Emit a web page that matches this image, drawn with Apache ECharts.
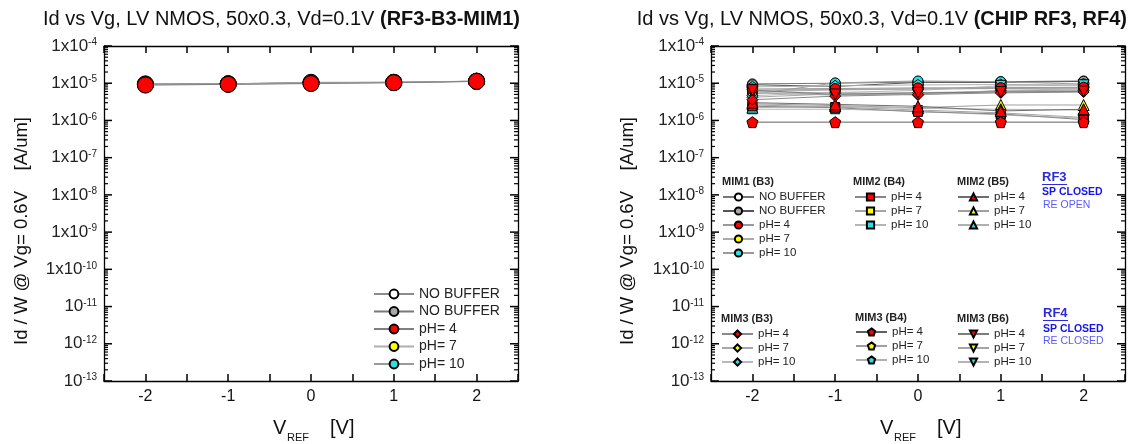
<!DOCTYPE html>
<html>
<head>
<meta charset="utf-8">
<script src="https://cdn.jsdelivr.net/npm/echarts@6/dist/echarts.min.js"></script>
<style>
  html, body { margin: 0; padding: 0; background: #fff; }
  #chart { width: 1129px; height: 444px; }
</style>
</head>
<body>
<div id="chart"></div>
<script>
// ---- data ----------------------------------------------------------------
const vref = [-2, -1, 0, 1, 2];
const decadeExponents = [-13, -12, -11, -10, -9, -8, -7, -6, -5, -4];

// Left panel: RF3-B3-MIM1
const b3NoBufferOpen = [9.6e-6, 9.7e-6, 1.03e-5, 1.06e-5, 1.14e-5];
const b3NoBufferGray = [9.4e-6, 9.6e-6, 1.02e-5, 1.05e-5, 1.13e-5];
const b3Ph4 = [8.9e-6, 9.3e-6, 9.8e-6, 1.03e-5, 1.12e-5];
const b3Ph7 = [9.1e-6, 9.4e-6, 1.0e-5, 1.04e-5, 1.12e-5];
const b3Ph10 = [9.2e-6, 9.6e-6, 1.06e-5, 1.06e-5, 1.13e-5];
const leftLabels = ['NO BUFFER', 'NO BUFFER', 'pH= 4', 'pH= 7', 'pH= 10'];

// Right panel: chips RF3 and RF4
const rf3Mim1B3NoBufferOpen = [9.6e-6, 1.0e-5, 1.08e-5, 1.1e-5, 1.15e-5];
const rf3Mim1B3NoBufferGray = [9.1e-6, 8.2e-6, 1.05e-5, 1.05e-5, 1.12e-5];
const rf3Mim1B3Ph4 = [7.0e-6, 7.2e-6, 7.5e-6, 7.6e-6, 7.8e-6];
const rf3Mim1B3Ph7 = [6.0e-6, 6.6e-6, 7.0e-6, 7.3e-6, 7.5e-6];
const rf3Mim1B3Ph10 = [5.0e-6, 1.02e-5, 1.15e-5, 1.1e-5, 9.5e-6];
const rf3Mim2B4Ph4 = [2.4e-6, 2.2e-6, 1.7e-6, 1.5e-6, 1.05e-6];
const rf3Mim2B4Ph7 = [2.6e-6, 2.3e-6, 1.9e-6, 1.6e-6, 1.2e-6];
const rf3Mim2B4Ph10 = [2.0e-6, 2.0e-6, 1.8e-6, 1.4e-6, 1.15e-6];
const rf3Mim2B5Ph4 = [3.0e-6, 2.7e-6, 2.4e-6, 1.8e-6, 2.0e-6];
const rf3Mim2B5Ph7 = [2.8e-6, 2.5e-6, 2.2e-6, 2.6e-6, 2.6e-6];
const rf3Mim2B5Ph10 = [2.2e-6, 2.4e-6, 2.1e-6, 2.0e-6, 1.9e-6];
const rf4Mim3B3Ph4 = [3.6e-6, 4.5e-6, 5.0e-6, 5.5e-6, 5.8e-6];
const rf4Mim3B3Ph7 = [4.2e-6, 5.2e-6, 5.6e-6, 6.0e-6, 6.3e-6];
const rf4Mim3B3Ph10 = [4.6e-6, 5.8e-6, 4.8e-6, 6.5e-6, 7.0e-6];
const rf4Mim3B4Ph4 = [9.0e-7, 9.0e-7, 9.0e-7, 9.0e-7, 9.0e-7];
const rf4Mim3B4Ph7 = [6.5e-6, 6.8e-6, 7.0e-6, 7.2e-6, 7.4e-6];
const rf4Mim3B4Ph10 = [8.0e-6, 8.5e-6, 9.0e-6, 9.2e-6, 9.5e-6];
const rf4Mim3B6Ph4 = [6.5e-6, 5.0e-6, 5.5e-6, 5.8e-6, 6.0e-6];
const rf4Mim3B6Ph7 = [5.5e-6, 4.8e-6, 5.2e-6, 6.2e-6, 6.6e-6];
const rf4Mim3B6Ph10 = [5.8e-6, 5.6e-6, 6.4e-6, 8.5e-6, 8.8e-6];

// ---- styling helpers -----------------------------------------------------
const FONT = 'Liberation Sans, Arial, sans-serif';
const RED = '#ff0000', YEL = '#ffff00', CYA = '#30dede', GRY = '#a8a8a8', WHT = '#ffffff';
const TRI_DOWN = 'path://M0,0L10,0L5,9Z';
const PENTAGON = 'path://M5,0L10,3.6L8.1,9.5L1.9,9.5L0,3.6Z';

const legendText = {};
function lineSeries(id, label, values, symbol, fill, size, lineColor, xi, yi, z) {
  legendText[id] = label;
  return {
    type: 'line', name: id,
    data: vref.map((x, i) => [x, values[i]]),
    xAxisIndex: xi, yAxisIndex: yi,
    symbol: symbol, symbolSize: size, showSymbol: true,
    z: z, animation: false, silent: true,
    lineStyle: { color: lineColor, width: 1 },
    itemStyle: { color: fill, borderColor: '#000', borderWidth: 1 },
    emphasis: { disabled: true }
  };
}

// left panel series
const leftSeries = [
  lineSeries('L_nb1', leftLabels[0], b3NoBufferOpen, 'circle', WHT, 16, '#8c8c8c', 0, 0, 2),
  lineSeries('L_nb2', leftLabels[1], b3NoBufferGray, 'circle', GRY, 16, '#7a7a7a', 0, 0, 2),
  lineSeries('L_p10', leftLabels[4], b3Ph10, 'circle', CYA, 16, '#9a9a9a', 0, 0, 2),
  lineSeries('L_p7', leftLabels[3], b3Ph7, 'circle', YEL, 16, '#b0b0b0', 0, 0, 2),
  lineSeries('L_p4', leftLabels[2], b3Ph4, 'circle', RED, 16, '#808080', 0, 0, 3)
];
const leftLegendOrder = ['L_nb1', 'L_nb2', 'L_p4', 'L_p7', 'L_p10'];

// right panel series
const RX = 2, RY = 2;
const rightGroups = [
  { head: 'MIM1 (B3)', ids: ['R1_nb1', 'R1_nb2', 'R1_p4', 'R1_p7', 'R1_p10'], items: [
    ['NO BUFFER', rf3Mim1B3NoBufferOpen, 'circle', WHT, 10, '#777777'],
    ['NO BUFFER', rf3Mim1B3NoBufferGray, 'circle', GRY, 10, '#555555'],
    ['pH= 4', rf3Mim1B3Ph4, 'circle', RED, 10, '#999999'],
    ['pH= 7', rf3Mim1B3Ph7, 'circle', YEL, 10, '#aaaaaa'],
    ['pH= 10', rf3Mim1B3Ph10, 'circle', CYA, 10, '#9a9a9a']] },
  { head: 'MIM2 (B4)', ids: ['R2_p4', 'R2_p7', 'R2_p10'], items: [
    ['pH= 4', rf3Mim2B4Ph4, 'rect', RED, 9, '#888888'],
    ['pH= 7', rf3Mim2B4Ph7, 'rect', YEL, 9, '#a5a5a5'],
    ['pH= 10', rf3Mim2B4Ph10, 'rect', CYA, 9, '#b5b5b5']] },
  { head: 'MIM2 (B5)', ids: ['R3_p4', 'R3_p7', 'R3_p10'], items: [
    ['pH= 4', rf3Mim2B5Ph4, 'triangle', RED, 11, '#6e6e6e'],
    ['pH= 7', rf3Mim2B5Ph7, 'triangle', YEL, 11, '#a0a0a0'],
    ['pH= 10', rf3Mim2B5Ph10, 'triangle', CYA, 11, '#b0b0b0']] },
  { head: 'MIM3 (B3)', ids: ['R4_p4', 'R4_p7', 'R4_p10'], items: [
    ['pH= 4', rf4Mim3B3Ph4, 'diamond', RED, 11, '#8a8a8a'],
    ['pH= 7', rf4Mim3B3Ph7, 'diamond', YEL, 11, '#a8a8a8'],
    ['pH= 10', rf4Mim3B3Ph10, 'diamond', CYA, 11, '#b8b8b8']] },
  { head: 'MIM3 (B4)', ids: ['R5_p4', 'R5_p7', 'R5_p10'], items: [
    ['pH= 4', rf4Mim3B4Ph4, PENTAGON, RED, 11, '#606060'],
    ['pH= 7', rf4Mim3B4Ph7, PENTAGON, YEL, 11, '#a0a0a0'],
    ['pH= 10', rf4Mim3B4Ph10, PENTAGON, CYA, 11, '#b0b0b0']] },
  { head: 'MIM3 (B6)', ids: ['R6_p4', 'R6_p7', 'R6_p10'], items: [
    ['pH= 4', rf4Mim3B6Ph4, TRI_DOWN, RED, 11, '#7c7c7c'],
    ['pH= 7', rf4Mim3B6Ph7, TRI_DOWN, YEL, 11, '#a4a4a4'],
    ['pH= 10', rf4Mim3B6Ph10, TRI_DOWN, CYA, 11, '#b4b4b4']] }
];
const rightNonRed = [], rightRed = [];
rightGroups.forEach(g => g.items.forEach((it, k) => {
  const s = lineSeries(g.ids[k], it[0], it[1], it[2], it[3], it[4], it[5], RX, RY, it[3] === RED ? 3 : 2);
  (it[3] === RED ? rightRed : rightNonRed).push(s);
}));

// ---- axes ------------------------------------------------------------------
const decades = decadeExponents.map(e => Math.pow(10, e));
const minorValues = [];
decadeExponents.slice(0, -1).forEach(e => { for (let k = 2; k <= 9; k++) minorValues.push(k * Math.pow(10, e)); });

function decadeLabel(v) {
  const e = Math.round(Math.log10(v));
  return (e >= -10 ? '1x10' : '10') + '{s|' + e + '}';
}

function xAxes(grid) {
  const common = {
    type: 'value', gridIndex: grid, min: -2.5, max: 2.5, interval: 0.5,
    splitLine: { show: false },
    axisLine: { onZero: false, lineStyle: { color: '#000', width: 1.3 } },
    axisTick: { inside: true, length: 7, lineStyle: { color: '#000', width: 1.5 } }
  };
  return [
    Object.assign({}, common, { position: 'bottom',
      axisLabel: { margin: 8, fontFamily: FONT, fontSize: 16, color: '#111',
        formatter: v => (Number.isInteger(v) ? String(v) : '') } }),
    Object.assign({}, common, { position: 'top', axisLabel: { show: false } })
  ];
}

function yAxes(grid) {
  const common = { type: 'log', logBase: 10, gridIndex: grid, min: 1e-13, max: 1e-4,
    splitLine: { show: false }, axisTick: { show: false } };
  return [
    Object.assign({}, common, { position: 'left',
      axisLine: { onZero: false, lineStyle: { color: '#000', width: 1.3 } },
      axisLabel: { margin: 7, customValues: decades, fontFamily: FONT, fontSize: 17, color: '#222',
        formatter: decadeLabel,
        rich: { s: { fontSize: 10, verticalAlign: 'top', lineHeight: 10, fontFamily: FONT, color: '#222', padding: [0, 0, 8, 0] } } } }),
    Object.assign({}, common, { position: 'right',
      axisLine: { onZero: false, lineStyle: { color: '#000', width: 1.3 } },
      axisLabel: { show: false } })
  ];
}

// inward log ticks on both vertical edges of a panel, placed through the axis scales
function tickSeries(xi, yi, values, len, width) {
  return {
    type: 'custom', xAxisIndex: xi, yAxisIndex: yi, silent: true, z: 4, animation: false,
    clip: false,
    data: values.map(v => [-2.5, v]),
    renderItem: function (params, api) {
      const v = api.value(1);
      const l = api.coord([-2.5, v]);
      const r = api.coord([2.5, v]);
      const st = { stroke: '#000', lineWidth: width };
      return { type: 'group', children: [
        { type: 'line', shape: { x1: l[0], y1: l[1], x2: l[0] + len, y2: l[1] }, style: st },
        { type: 'line', shape: { x1: r[0], y1: r[1], x2: r[0] - len, y2: r[1] }, style: st }
      ] };
    }
  };
}

// ---- legends ---------------------------------------------------------------
function legend(ids, left, top, opts) {
  return Object.assign({
    orient: 'vertical', left: left, top: top, padding: 0, selectedMode: false,
    data: ids, formatter: n => legendText[n]
  }, opts);
}
const smallLegend = { itemWidth: 31, itemHeight: 9, itemGap: 1,
  textStyle: { fontFamily: FONT, fontSize: 11.5, lineHeight: 13, color: '#222' } };
const legends = [
  legend(leftLegendOrder, 373, 287, { itemWidth: 40, itemHeight: 11, itemGap: 3.5,
    textStyle: { fontFamily: FONT, fontSize: 14, lineHeight: 14, color: '#222' } }),
  legend(rightGroups[0].ids, 722, 190.5, smallLegend),
  legend(rightGroups[1].ids, 854, 190.5, smallLegend),
  legend(rightGroups[2].ids, 957, 190.5, smallLegend),
  legend(rightGroups[3].ids, 721, 327.5, smallLegend),
  legend(rightGroups[4].ids, 855, 325.5, smallLegend),
  legend(rightGroups[5].ids, 957, 327.5, smallLegend)
];

// ---- free text ---------------------------------------------------------------
function txt(x, y, text, font, fill, extra) {
  return Object.assign({ type: 'text', x: x, y: y, silent: true,
    style: { text: text, font: font, fill: fill, align: 'left', verticalAlign: 'middle',
      textAlign: 'left', textVerticalAlign: 'middle' } }, extra || {});
}
function title(xRight, normal, bold) {
  return { type: 'text', x: xRight, y: 19, silent: true,
    style: { text: '{n|' + normal + '}{b|' + bold + '}', align: 'right', verticalAlign: 'middle',
      textAlign: 'right', textVerticalAlign: 'middle',
      rich: { n: { fontFamily: FONT, fontSize: 20, fill: '#111', color: '#111' },
              b: { fontFamily: FONT, fontSize: 20, fontWeight: 'bold', fill: '#111', color: '#111' } } } };
}
function yName(cx) {
  return { type: 'text', x: cx, y: 231, rotation: Math.PI / 2, silent: true,
    style: { text: 'Id / W @ Vg= 0.6V    [A/um]', font: '18.5px ' + FONT, fill: '#111',
      align: 'center', verticalAlign: 'middle', textAlign: 'center', textVerticalAlign: 'middle' } };
}
function xName(vx) {
  return [
    txt(vx, 428, 'V', '20px ' + FONT, '#111'),
    txt(vx + 14, 438, 'REF', '11px ' + FONT, '#111'),
    txt(vx + 57, 428, '[V]', '20px ' + FONT, '#111')
  ];
}
const headFont = 'bold 11px ' + FONT;
const graphics = [
  title(520, 'Id vs Vg, LV NMOS, 50x0.3, Vd=0.1V ', '(RF3-B3-MIM1)'),
  title(1127, 'Id vs Vg, LV NMOS, 50x0.3, Vd=0.1V ', '(CHIP RF3, RF4)'),
  yName(22), yName(628),
  ...xName(273), ...xName(880),
  txt(722, 182, rightGroups[0].head, headFont, '#222'),
  txt(853, 182, rightGroups[1].head, headFont, '#222'),
  txt(957, 182, rightGroups[2].head, headFont, '#222'),
  txt(721, 319, rightGroups[3].head, headFont, '#222'),
  txt(855, 318, rightGroups[4].head, headFont, '#222'),
  txt(957, 319, rightGroups[5].head, headFont, '#222'),
  txt(1042, 177, 'RF3', 'bold 13px ' + FONT, '#2a2ad8'),
  { type: 'line', silent: true, shape: { x1: 1042, y1: 184.5, x2: 1067, y2: 184.5 }, style: { stroke: '#2a2ad8', lineWidth: 1 } },
  txt(1042, 192, 'SP CLOSED', 'bold 10.5px ' + FONT, '#1414ee'),
  txt(1043, 205, 'RE OPEN', '10.5px ' + FONT, '#5a5aff'),
  txt(1043, 313, 'RF4', 'bold 13px ' + FONT, '#2a2ad8'),
  { type: 'line', silent: true, shape: { x1: 1043, y1: 320.5, x2: 1068, y2: 320.5 }, style: { stroke: '#2a2ad8', lineWidth: 1 } },
  txt(1043, 329, 'SP CLOSED', 'bold 10.5px ' + FONT, '#1414ee'),
  txt(1043, 341, 'RE CLOSED', '10.5px ' + FONT, '#5a5aff')
];

// ---- chart -----------------------------------------------------------------
const chart = echarts.init(document.getElementById('chart'), null, { renderer: 'canvas' });
chart.setOption({
  animation: false,
  backgroundColor: '#fff',
  textStyle: { fontFamily: FONT },
  grid: [
    { left: 104, right: 611, top: 46, bottom: 63 },
    { left: 711, right: 4, top: 46, bottom: 63 }
  ],
  xAxis: [...xAxes(0), ...xAxes(1)],
  yAxis: [...yAxes(0), ...yAxes(1)],
  legend: legends,
  series: [
    tickSeries(0, 0, decades, 8, 1.5), tickSeries(0, 0, minorValues, 4, 1.2),
    tickSeries(2, 2, decades, 8, 1.5), tickSeries(2, 2, minorValues, 4, 1.2),
    ...leftSeries, ...rightNonRed, ...rightRed
  ],
  graphic: graphics
});
</script>
</body>
</html>
